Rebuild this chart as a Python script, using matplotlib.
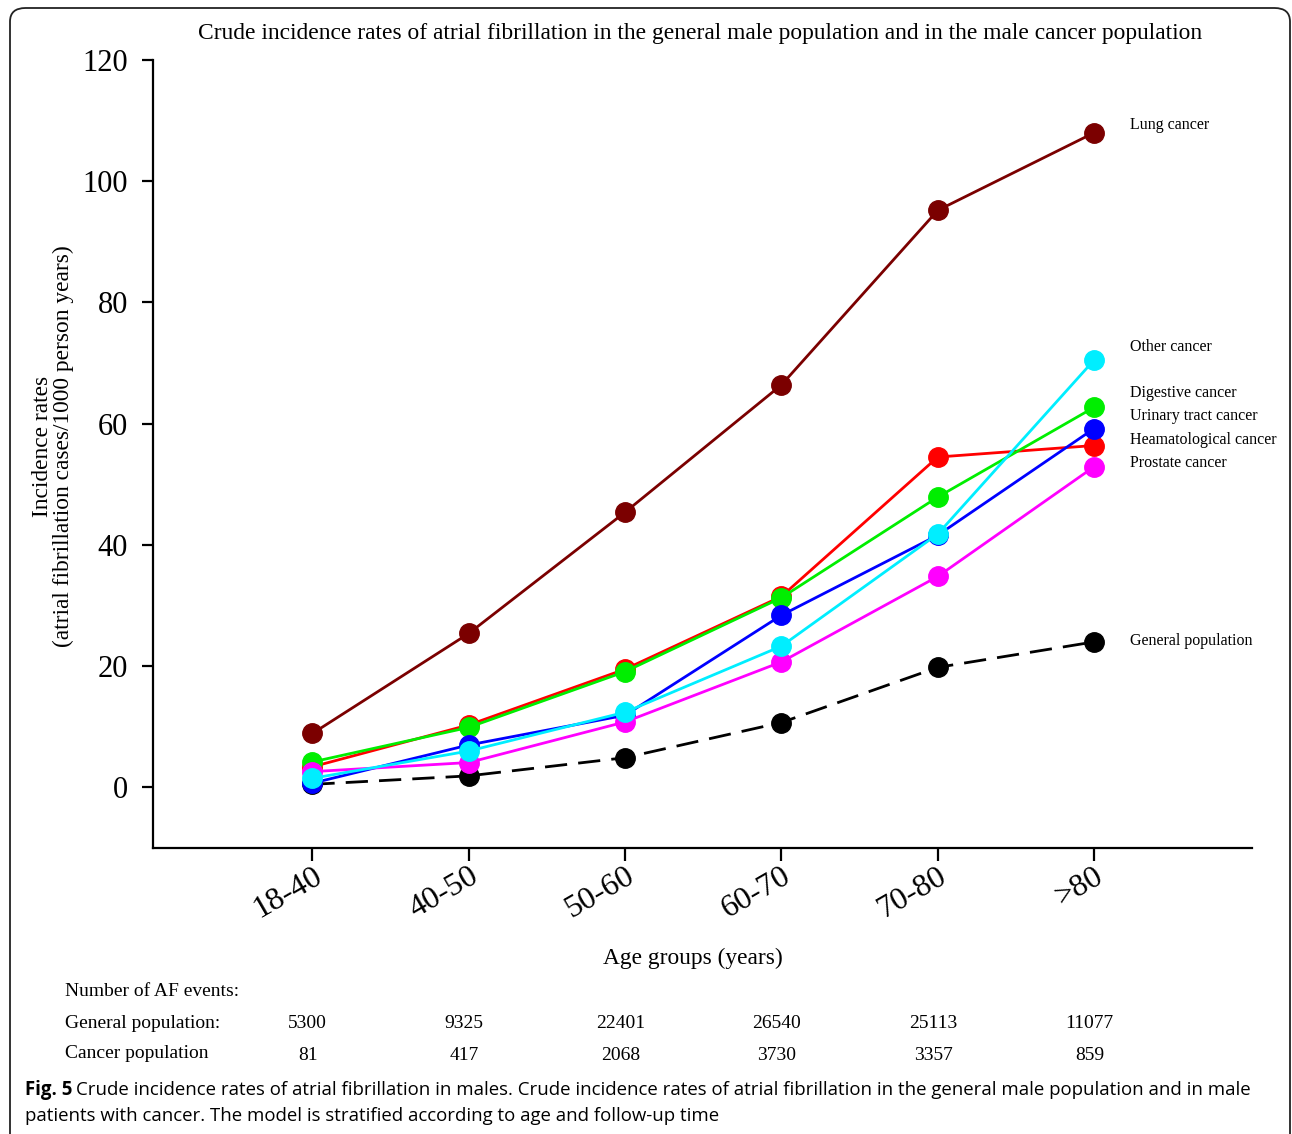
import matplotlib
matplotlib.use("Agg")
import matplotlib.pyplot as plt
import matplotlib.transforms as mtrans
from matplotlib.patches import FancyBboxPatch

# ---- data ----
age_groups = ["18-40", "40-50", "50-60", "60-70", "70-80", ">80"]

lung = [8.9, 25.4, 45.4, 66.4, 95.2, 108.0]
general = [0.5, 1.9, 4.9, 10.7, 19.8, 24.0]
haemato = [3.4, 10.3, 19.5, 31.5, 54.5, 56.4]
digestive = [4.2, 9.9, 19.1, 31.3, 47.9, 62.7]
urinary = [0.7, 7.0, 11.9, 28.4, 41.6, 59.2]
prostate = [2.6, 4.1, 10.8, 20.7, 34.8, 52.9]
other = [1.5, 6.0, 12.4, 23.3, 41.8, 70.5]

series_names = ["General population", "Lung cancer", "Heamatological cancer",
                "Digestive cancer", "Urinary tract cancer", "Prostate cancer",
                "Other cancer"]
series_vals = [general, lung, haemato, digestive, urinary, prostate, other]
series_cols = ["black", "#7b0000", "#ff0000", "#00ee00", "#0000ff", "#ff00ff", "#00eeff"]

# where the end labels sit (value units), they are spread out from the points
label_y = [24.1, 109.2, 57.3, 65.0, 61.2, 53.5, 72.6]

af_general = [5300, 9325, 22401, 26540, 25113, 11077]
af_cancer = [81, 417, 2068, 3730, 3357, 859]

title = ("Crude incidence rates of atrial fibrillation in the general male "
         "population and in the male cancer population")
caption_bold = "Fig. 5"
caption_1 = ("Crude incidence rates of atrial fibrillation in males. Crude incidence "
             "rates of atrial fibrillation in the general male population and in male")
caption_2 = "patients with cancer. The model is stratified according to age and follow-up time"

serif = "Liberation Serif"
capfont = "Open Sans"

W, H = 1292, 1134
fig = plt.figure(figsize=(W / 100, H / 100), dpi=100)
fig.patch.set_facecolor("white")

ax = fig.add_axes([153 / W, 1 - 848 / H, (1252 - 153) / W, (848 - 60) / H])
x = list(range(len(age_groups)))

for name, vals, col in zip(series_names, series_vals, series_cols):
    ls = "--" if name == "General population" else "-"
    ln, = ax.plot(x, vals, ls, color=col, lw=2, marker="o", ms=14,
                  markeredgecolor=col)
    if ls == "--":
        ln.set_dashes((8, 4))

for name, ly in zip(series_names, label_y):
    ax.annotate(name, xy=(x[-1], ly), xytext=(26, 0), textcoords="offset points",
                va="center", ha="left", fontsize=11.5, family=serif,
                annotation_clip=False)

ax.set_xlim(-1.02, 6.01)
ax.set_ylim(-10, 120)
ax.set_yticks([0, 20, 40, 60, 80, 100, 120])
ax.set_xticks(x)
ax.set_xticklabels(age_groups, rotation=30, ha="right", rotation_mode="anchor")
ax.spines["top"].set_visible(False)
ax.spines["right"].set_visible(False)
for s in ("left", "bottom"):
    ax.spines[s].set_linewidth(1.6)
ax.tick_params(axis="y", length=8, width=1.6, pad=10, labelsize=22)
ax.tick_params(axis="x", length=9, width=1.6, pad=1, labelsize=23)
for lab in ax.get_xticklabels() + ax.get_yticklabels():
    lab.set_family(serif)

fig.text(700 / W, 1 - 34 / H, title, ha="center", va="center",
         fontsize=16.9, family=serif)
fig.text(53 / W, 1 - 446 / H,
         "Incidence rates\n(atrial fibrillation cases/1000 person years)",
         rotation=90, ha="center", va="center", multialignment="center",
         fontsize=16.8, family=serif, linespacing=1.0)
fig.text(693 / W, 1 - 958 / H, "Age groups (years)", ha="center", va="center",
         fontsize=16.8, family=serif)

# event counts under the axis
fig.text(65 / W, 1 - 991 / H, "Number of AF events:", ha="left", va="center",
         fontsize=14, family=serif)
fig.text(65 / W, 1 - 1023 / H, "General population:", ha="left", va="center",
         fontsize=14, family=serif)
fig.text(65 / W, 1 - 1054 / H, "Cancer population", ha="left", va="center",
         fontsize=14, family=serif)
tr = mtrans.blended_transform_factory(ax.transData, fig.transFigure)
for xi, g, c in zip(x, af_general, af_cancer):
    ax.text(xi - 0.03, 1 - 1024 / H, str(g), transform=tr, ha="center",
            va="center", fontsize=14, family=serif, clip_on=False)
    ax.text(xi - 0.03, 1 - 1055 / H, str(c), transform=tr, ha="center",
            va="center", fontsize=14, family=serif, clip_on=False)

# caption
fb = fig.text(25 / W, 1 - 1090 / H, caption_bold, ha="left", va="center",
              fontsize=13.4, family=capfont, weight="bold")
fig.canvas.draw()
bb = fb.get_window_extent(fig.canvas.get_renderer())
fig.text((bb.x1 + 4) / W, 1 - 1090 / H, caption_1, ha="left", va="center",
         fontsize=13.4, family=capfont)
fig.text(25 / W, 1 - 1116 / H, caption_2, ha="left", va="center",
         fontsize=13.4, family=capfont)

# rounded frame round the figure
frame = FancyBboxPatch((10 / W, -0.05), (1290 - 10) / W, 1.05 - 8 / H,
                       boxstyle="round,pad=0,rounding_size=0.012",
                       transform=fig.transFigure, fill=False,
                       edgecolor="#222222", lw=1.3, clip_on=False)
fig.patches.append(frame)

fig.savefig("out.png", dpi=100)
